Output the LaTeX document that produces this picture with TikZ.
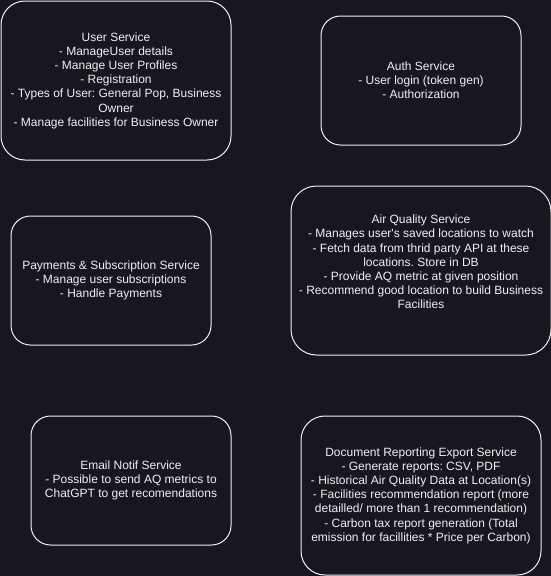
\documentclass[tikz,border=0pt]{standalone}
\usepackage{fontspec}
\setmainfont{Liberation Sans}[Ligatures=TeXOff]
\frenchspacing
\definecolor{bgc}{RGB}{24,22,30}
\definecolor{fgc}{RGB}{240,240,240}
\tikzset{
  svc/.style={draw=fgc, line width=1pt, text=fgc, align=center, inner sep=0pt,
    font=\fontsize{12}{14.2}\selectfont},
  txt/.style={text=fgc, align=center, inner sep=0pt, font=\fontsize{12}{14.2}\selectfont},
}
\begin{document}
\begin{tikzpicture}[x=1pt,y=-1pt]
\fill[bgc] (0,0) rectangle (551,576);
\useasboundingbox (0,0) rectangle (551,576);
\node[svc, rounded corners=24pt, minimum width=230pt, minimum height=159pt] (user) at (116,80.5)
  {User Service\\- ManageUser details\\- Manage User Profiles\\- Registration\\- Types of User: General Pop, Business\\Owner\\- Manage facilities for Business Owner};
\node[svc, rounded corners=19.5pt, minimum width=200pt, minimum height=129pt] (auth) at (421,80.5)
  {Auth Service\\- User login (token gen)\\- Authorization};
\node[svc, rounded corners=19.5pt, minimum width=200pt, minimum height=129pt] (pay) at (111,280.5)
  {Payments \& Subscription Service\\- Manage user subscriptions\\- Handle Payments};
\node[svc, rounded corners=25.5pt, minimum width=260pt, minimum height=169pt] (aq) at (421,270.5) {};
\node[txt] (aqtext) at (421,262)
  {Air Quality Service\\- Manages user's saved locations to watch\\- Fetch data from thrid party API at these\\locations. Store in DB\\- Provide AQ metric at given position\\- Recommend good location to build Business\\Facilities};
\node[svc, rounded corners=19.5pt, minimum width=200pt, minimum height=129pt] (email) at (131,480.5)
  {Email Notif Service\\- Possible to send AQ metrics to\\ChatGPT to get recomendations};
\node[svc, rounded corners=24pt, minimum width=240pt, minimum height=159pt] (doc) at (421,495.5)
  {Document Reporting Export Service\\- Generate reports: CSV, PDF\\- Historical Air Quality Data at Location(s)\\- Facilities recommendation report (more\\detailled/ more than 1 recommendation)\\- Carbon tax report generation (Total\\emission for facillities * Price per Carbon)};
\end{tikzpicture}
\end{document}
